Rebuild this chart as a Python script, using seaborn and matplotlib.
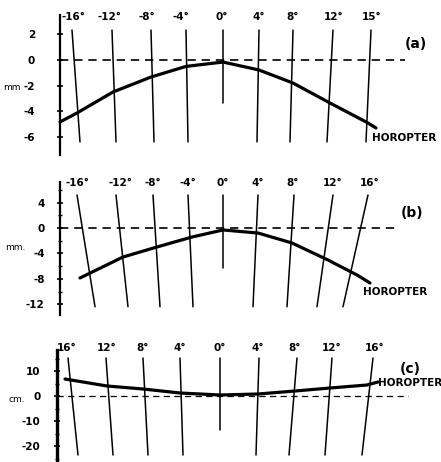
import numpy as np
import matplotlib
matplotlib.use("Agg")
import matplotlib.pyplot as plt
import seaborn as sns
from matplotlib.ticker import FixedLocator

sns.set_style("white")
plt.rcParams['font.family'] = ['DejaVu Sans']
plt.rcParams['axes.unicode_minus'] = False
plt.rcParams['text.color'] = 'black'
plt.rcParams['ytick.color'] = 'black'
plt.rcParams['ytick.labelcolor'] = 'black'

# horizontal position unit: lateral offset from the 0 deg direction (arbitrary units)

# ---- panel (a) ----
a_deg_labels = ['-16°', '-12°', '-8°', '-4°', '0°', '4°', '8°', '12°', '15°']
a_label_x = [-14.9, -11.3, -7.5, -4.1, 0.0, 3.7, 7.1, 11.2, 15.0]
a_line_top = [-15.0, -11.0, -7.1, -3.6, 0.1, 3.7, 7.1, 11.1, 14.9]
a_line_bot = [-14.2, -10.6, -6.8, -3.4, 0.1, 3.5, 6.8, 10.5, 14.4]
a_curve_x = [-16.2, -14.5, -10.9, -7.1, -3.6, 0.1, 3.7, 7.1, 10.8, 14.6, 15.4]
a_curve_y = [-4.84, -4.14, -2.5, -1.33, -0.5, -0.16, -0.78, -1.8, -3.36, -4.92, -5.31]
a_yticks = [2, 0, -2, -4, -6]
a_minor = []

# ---- panel (b) ----
b_deg_labels = ['-16°', '-12°', '-8°', '-4°', '0°', '4°', '8°', '12°', '16°']
b_label_x = [-14.5, -10.2, -6.9, -3.4, 0.1, 3.6, 7.1, 11.1, 14.8]
b_line_top = [-14.5, -10.6, -6.9, -3.4, 0.1, 3.6, 7.2, 11.1, 14.6]
b_line_bot = [-12.7, -9.4, -6.2, -2.9, 0.1, 3.1, 6.5, 9.5, 12.1]
b_curve_x = [-14.2, -9.9, -6.5, -3.0, 0.1, 3.6, 7.0, 10.6, 13.5, 14.8]
b_curve_y = [-7.87, -4.57, -2.99, -1.42, -0.31, -0.79, -2.36, -5.04, -7.4, -8.66]
b_yticks = [4, 0, -4, -8, -12]
b_minor = [6, 2, -2, -6, -10]

# ---- panel (c) ----
c_deg_labels = ['16°', '12°', '8°', '4°', '0°', '4°', '8°', '12°', '16°']
c_label_x = [-15.5, -11.5, -7.9, -4.2, -0.2, 3.6, 7.3, 11.0, 15.3]
c_line_top = [-15.4, -11.6, -7.9, -4.2, -0.2, 3.7, 7.5, 11.0, 15.1]
c_line_bot = [-14.4, -10.9, -7.4, -3.9, -0.2, 3.4, 6.7, 10.3, 14.0]
c_curve_x = [-15.7, -11.5, -7.9, -4.2, -0.2, 3.6, 7.3, 10.8, 14.5, 15.6]
c_curve_y = [6.8, 4.0, 2.8, 1.2, 0.4, 0.8, 2.0, 3.2, 4.4, 5.6]
c_yticks = [10, 0, -10, -20]
c_minor = [15, 5, -5, -15, -25]

W, H = 441, 462
fig = plt.figure(figsize=(W / 100, H / 100), dpi=100)
fs = 7.5

panels = [
    dict(rows=(0, 160), zero=60, s=12.8, axx=-16.2, bounds=(-7.42, 3.52), ltop=2.34, lbot=-6.4, cbot=-3.36,
         labels=a_deg_labels, lx=a_label_x, ly=3.36, top=a_line_top, bot=a_line_bot,
         cx=a_curve_x, cy=a_curve_y, yt=a_yticks, minor=a_minor, pad=16, dash_end=18.3, dlw=1.2,
         tag='(a)', tagxy=(19.4, 1.25), horxy=(15.0, -6.1), unit='mm', unitxy=(-21.9, -2.15), spw=1.6),
    dict(rows=(160, 320), zero=228, s=6.35, axx=-16.2, bounds=(-13.7, 7.24), ltop=5.2, lbot=-12.4, cbot=-6.3,
         labels=b_deg_labels, lx=b_label_x, ly=7.09, top=b_line_top, bot=b_line_bot,
         cx=b_curve_x, cy=b_curve_y, yt=b_yticks, minor=b_minor, pad=9, dash_end=17.8, dlw=1.2,
         tag='(b)', tagxy=(19.0, 2.36), horxy=(14.1, -10.1), unit='mm.', unitxy=(-21.7, -3.0), spw=1.6),
    dict(rows=(320, 462), zero=396, s=2.5, axx=-16.5, bounds=(-26.4, 18.4), ltop=15.2, lbot=-23.6, cbot=-13.6,
         labels=c_deg_labels, lx=c_label_x, ly=19.2, top=c_line_top, bot=c_line_bot,
         cx=c_curve_x, cy=c_curve_y, yt=c_yticks, minor=c_minor, pad=10, dash_end=18.6, dlw=0.9,
         tag='(c)', tagxy=(18.8, 10.8), horxy=(15.6, 5.2), unit='cm.', unitxy=(-21.3, -1.2), spw=2.4),
]

for p in panels:
    r0, r1 = p['rows']
    ax = fig.add_axes([0, 1 - r1 / H, 1, (r1 - r0) / H])
    ax.set_xlim(-22.2, 21.9)
    ax.set_ylim((p['zero'] - r1) / p['s'], (p['zero'] - r0) / p['s'])
    ax.patch.set_alpha(0)
    for side in ['top', 'right', 'bottom']:
        ax.spines[side].set_visible(False)
    ax.spines['left'].set_position(('data', p['axx']))
    ax.spines['left'].set_bounds(*p['bounds'])
    ax.spines['left'].set_linewidth(p['spw'])
    ax.spines['left'].set_color('black')
    ax.set_xticks([])
    ax.set_yticks(p['yt'])
    ax.set_yticklabels([str(v) for v in p['yt']], fontsize=fs, fontweight='bold')
    ax.yaxis.set_minor_locator(FixedLocator(p['minor']))
    ax.tick_params(axis='y', which='major', direction='inout', length=4, width=1.2, pad=p['pad'], left=True)
    ax.tick_params(axis='y', which='minor', direction='inout', length=3, width=1.0, left=True)

    # zero reference line
    ax.plot([p['axx'], p['dash_end']], [0, 0], color='black', lw=p['dlw'], ls=(0, (5, 3.5)))

    # visual direction lines
    for i, (t, b) in enumerate(zip(p['top'], p['bot'])):
        yb = p['cbot'] if p['labels'][i] == '0°' else p['lbot']
        ax.plot([t, b], [p['ltop'], yb], color='black', lw=1.1)
        ax.text(p['lx'][i], p['ly'], p['labels'][i], ha='center', va='center',
                fontsize=fs, fontweight='bold')

    # horopter curve
    sns.lineplot(x=p['cx'], y=p['cy'], ax=ax, color='black', lw=2.3, sort=False)

    ax.text(*p['tagxy'], p['tag'], ha='center', va='center', fontsize=10, fontweight='bold')
    ax.text(*p['horxy'], 'HOROPTER', ha='left', va='center', fontsize=fs, fontweight='bold', clip_on=False)
    ax.text(*p['unitxy'], p['unit'], ha='left', va='center', fontsize=6.5, clip_on=False)

fig.savefig('out.png', dpi=100)
